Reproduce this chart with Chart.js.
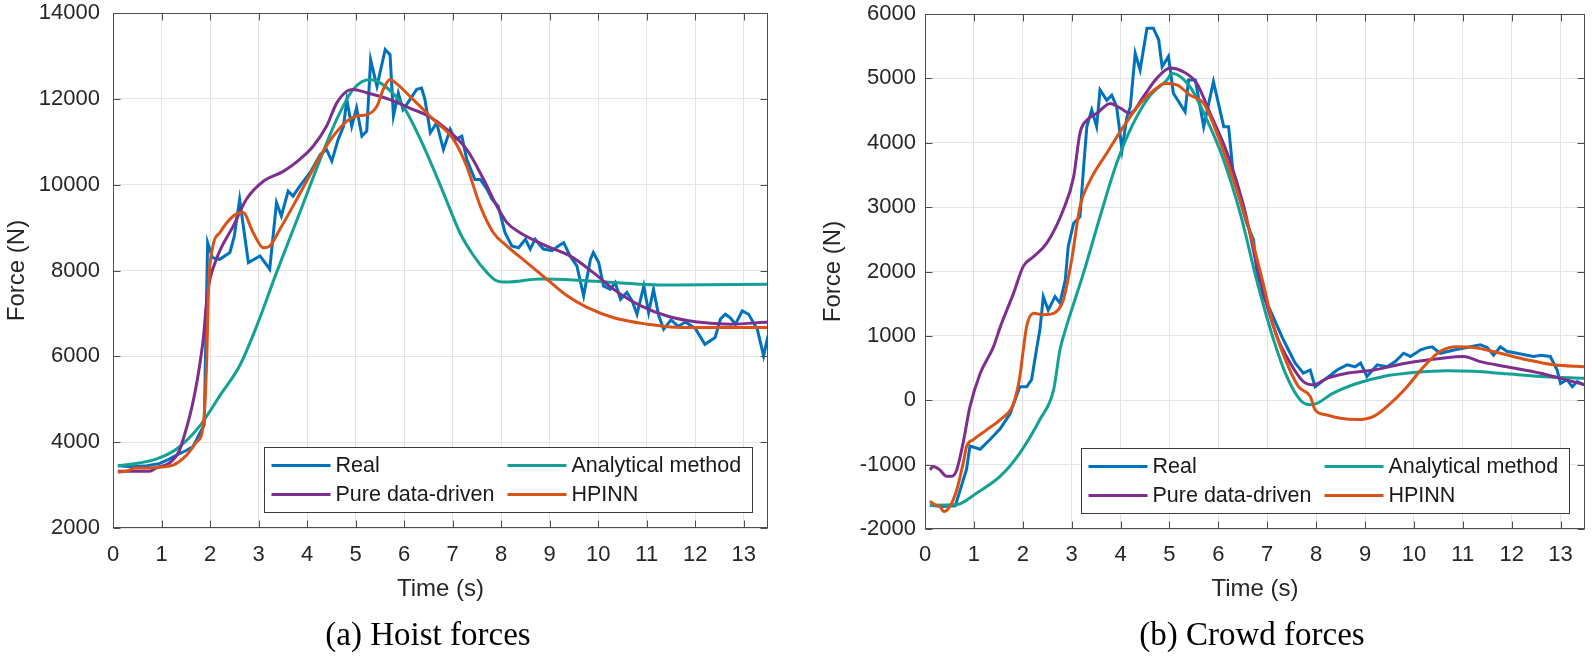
<!DOCTYPE html>
<html>
<head>
<meta charset="utf-8">
<title>Hoist and crowd forces</title>
<script src="https://cdn.jsdelivr.net/npm/chart.js@4.4.1/dist/chart.umd.min.js"></script>
<style>
  html, body { margin: 0; padding: 0; background: #fff; }
  .panel { position: absolute; top: 0; width: 796px; height: 660px; }
  #panelA { left: 0; }
  #panelB { left: 796px; }
</style>
</head>
<body>
<div class="panel" id="panelA"><canvas id="hoist" width="796" height="660"></canvas></div>
<div class="panel" id="panelB"><canvas id="crowd" width="796" height="660"></canvas></div>
<script>
// series names, legend reads row by row (2 columns)
const seriesNames = ['Real', 'Analytical method', 'Pure data-driven', 'HPINN'];
const seriesColors = ['#0072BD', '#14A095', '#7E2F8E', '#D95319'];

// tick labels
const timeTicks = [0, 1, 2, 3, 4, 5, 6, 7, 8, 9, 10, 11, 12, 13];
const hoistTicks = [2000, 4000, 6000, 8000, 10000, 12000, 14000];
const crowdTicks = [-2000, -1000, 0, 1000, 2000, 3000, 4000, 5000, 6000];

// (a) hoist forces - real measurement
const hoistRealT = [0.1, 0.4, 0.7, 0.95, 1.15, 1.35, 1.5, 1.65, 1.8, 1.88, 1.95, 2.05, 2.2, 2.41, 2.5, 2.61, 2.79, 3.03, 3.23, 3.37,
  3.47, 3.61, 3.71, 3.85, 4.06, 4.27, 4.4, 4.51, 4.64, 4.75, 4.82, 4.92, 5.02, 5.13, 5.23, 5.31, 5.44, 5.61, 5.71, 5.78,
  5.88, 5.98, 6.12, 6.26, 6.36, 6.43, 6.54, 6.67, 6.81, 6.95, 7.05, 7.19, 7.29, 7.46, 7.57, 7.71, 7.81, 7.94, 8.08, 8.22,
  8.36, 8.5, 8.6, 8.7, 8.87, 9.05, 9.18, 9.29, 9.42, 9.56, 9.7, 9.84, 9.9, 10.01, 10.11, 10.25, 10.35, 10.46, 10.59, 10.7,
  10.8, 10.94, 11.04, 11.14, 11.25, 11.35, 11.5, 11.65, 11.8, 12.0, 12.2, 12.41, 12.52, 12.62, 12.72, 12.83, 12.97, 13.1, 13.28, 13.41, 13.5];
const hoistRealF = [3450, 3430, 3450, 3500, 3600, 3720, 3800, 3900, 4230, 4400, 8650, 8300, 8260, 8420, 8800, 9660, 8185, 8340, 8030, 9580,
  9270, 9850, 9735, 9967, 10280, 10700, 10820, 10550, 11050, 11360, 11980, 11360, 11790, 11130, 11250, 12910, 12290, 13150, 13030, 11600,
  12140, 11750, 11980, 12220, 12250, 11980, 11210, 11440, 10820, 11290, 11050, 11130, 10590, 10120, 10120, 9890, 9660, 9500, 8880, 8570,
  8530, 8730, 8500, 8730, 8500, 8460, 8570, 8650, 8340, 8110, 7410, 8260, 8420, 8185, 7640, 7560, 7720, 7330, 7490, 7290,
  6980, 7640, 7020, 7560, 6940, 6630, 6850, 6700, 6800, 6650, 6280, 6440, 6870, 6980, 6900, 6750, 7060, 6980, 6630, 6010, 6480];

// (a) hoist forces - analytical method
const hoistAnaT = [0.1, 0.41, 0.9, 1.31, 1.79, 2.2, 2.61, 2.96, 3.37, 3.85, 4.27, 4.61, 4.95, 5.3, 5.6, 5.98, 6.4, 6.81, 7.15, 7.43,
  7.71, 7.91, 8.12, 8.81, 9.49, 10.18, 10.87, 11.56, 13.5];
const hoistAnaF = [3450, 3490, 3610, 3840, 4380, 5080, 5780, 6700, 7950, 9350, 10590, 11520, 12220, 12450, 12300, 11830, 10900, 9810, 8880, 8350,
  7950, 7760, 7730, 7800, 7780, 7730, 7680, 7660, 7680];

// (a) hoist forces - pure data-driven
const hoistPureT = [0.1, 0.75, 0.9, 1.2, 1.4, 1.85, 1.95, 2.13, 2.48, 2.75, 3.1, 3.51, 3.85, 4.13, 4.4, 4.61, 4.82, 4.95,
  5.23, 5.5, 5.71, 6.19, 6.5, 6.88, 7.29, 7.64, 7.91, 8.12, 8.39, 8.94, 9.42, 9.9, 10.32, 10.87, 11.42, 12.04, 12.73, 13.5];
const hoistPureF = [3320, 3320, 3400, 3550, 3900, 6300, 7500, 8260, 9040, 9660, 10080, 10310, 10590, 10900, 11360, 11900, 12180, 12220,
  12140, 12060, 11980, 11750, 11600, 11290, 10820, 10120, 9500, 9115, 8880, 8570, 8340, 7950, 7560, 7180, 6940, 6800, 6750, 6800];

// (a) hoist forces - HPINN
const hoistHpinnT = [0.1, 0.3, 0.45, 0.7, 1.0, 1.25, 1.51, 1.72, 1.86, 1.93, 1.97, 2.06, 2.2, 2.48, 2.68, 2.89, 3.1, 3.23, 3.44, 3.71,
  3.99, 4.27, 4.54, 4.82, 5.02, 5.23, 5.44, 5.57, 5.71, 5.85, 6.19, 6.6, 7.02, 7.29, 7.57, 7.84, 8.12, 8.53, 8.94, 9.36,
  9.77, 10.32, 11.01, 11.69, 13.5];
const hoistHpinnF = [3300, 3330, 3400, 3400, 3420, 3470, 3690, 4000, 4380, 5860, 7600, 8570, 8880, 9270, 9350, 8880, 8530, 8570, 8960, 9500,
  10080, 10660, 11130, 11480, 11600, 11630, 11830, 12220, 12450, 12350, 11980, 11520, 11050, 10430, 9500, 8880, 8570, 8185, 7800, 7410,
  7140, 6900, 6750, 6670, 6670];

// (b) crowd forces - real measurement
const crowdRealT = [0.1, 0.35, 0.62, 0.85, 0.92, 1.13, 1.33, 1.54, 1.74, 1.94, 2.08, 2.18, 2.29, 2.35, 2.42, 2.52, 2.66, 2.76, 2.87, 2.93,
  3.04, 3.17, 3.24, 3.31, 3.41, 3.51, 3.58, 3.72, 3.82, 3.92, 4.03, 4.13, 4.2, 4.3, 4.4, 4.54, 4.67, 4.78, 4.85, 4.98,
  5.08, 5.32, 5.39, 5.53, 5.7, 5.9, 6.11, 6.21, 6.31, 6.58, 6.72, 6.82, 7.06, 7.33, 7.57, 7.74, 7.88, 7.98, 8.12, 8.26,
  8.43, 8.63, 8.8, 8.91, 9.04, 9.25, 9.45, 9.62, 9.79, 9.93, 10.13, 10.24, 10.37, 10.54, 10.82, 11.16, 11.36, 11.5, 11.63, 11.77,
  11.9, 12.11, 12.31, 12.45, 12.59, 12.79, 12.93, 13.0, 13.13, 13.24, 13.34, 13.48];
const crowdRealF = [-1630, -1650, -1640, -1070, -710, -760, -610, -440, -210, 210, 210, 320, 830, 1090, 1610, 1400, 1610, 1510, 1870, 2390,
  2750, 2850, 3580, 4250, 4510, 4250, 4820, 4660, 4740, 4560, 3890, 4400, 4560, 5390, 5130, 5780, 5780, 5600, 5180, 5340,
  4770, 4480, 4975, 4975, 4250, 4950, 4250, 4250, 3470, 2750, 2490, 1770, 1400, 940, 580, 420, 470, 210, 290, 370,
  470, 550, 520, 580, 370, 550, 520, 600, 730, 680, 780, 810, 830, 730, 780, 830, 860, 820, 700, 830,
  760, 730, 700, 680, 700, 680, 470, 260, 320, 210, 290, 240];

// (b) crowd forces - analytical method
const crowdAnaT = [0.1, 0.65, 1.06, 1.54, 1.94, 2.35, 2.63, 2.76, 2.87, 3.24, 3.58, 3.92, 4.26, 4.61, 4.95, 5.05, 5.42, 5.77, 6.11, 6.45,
  6.79, 7.13, 7.4, 7.68, 7.88, 8.01, 8.35, 8.83, 9.38, 9.99, 10.68, 11.22, 11.9, 12.59, 13.5];
const crowdAnaF = [-1630, -1620, -1440, -1180, -820, -300, 160, 780, 1090, 1970, 2850, 3680, 4300, 4740, 4975, 5080, 4870, 4350, 3730, 2900,
  1850, 940, 370, 0, -70, -50, 110, 260, 370, 430, 460, 450, 410, 370, 340];

// (b) crowd forces - pure data-driven
const crowdPureT = [0.1, 0.17, 0.3, 0.44, 0.55, 0.65, 0.78, 0.92, 1.13, 1.4, 1.54, 1.81, 2.01, 2.22, 2.49, 2.83, 3.04, 3.17, 3.31, 3.52,
  3.79, 3.99, 4.2, 4.47, 4.74, 5.02, 5.29, 5.56, 5.83, 6.18, 6.52, 6.86, 7.2, 7.47, 7.74, 7.95, 8.22, 8.63, 9.18, 9.86,
  10.54, 11.02, 11.36, 11.9, 12.59, 13.0, 13.5];
const crowdPureF = [-1080, -1030, -1080, -1180, -1180, -1080, -660, -100, 420, 830, 1140, 1660, 2080, 2230, 2440, 2960, 3470, 4150, 4350, 4460,
  4610, 4540, 4460, 4720, 5000, 5160, 5100, 4920, 4460, 3840, 3010, 1850, 990, 580, 290, 240, 340, 420, 470, 580,
  650, 680, 600, 520, 420, 340, 240];

// (b) crowd forces - HPINN
const crowdHpinnT = [0.1, 0.2, 0.31, 0.38, 0.51, 0.65, 0.78, 0.85, 0.99, 1.26, 1.54, 1.81, 1.94, 2.01, 2.08, 2.22, 2.42, 2.63, 2.83, 3.0,
  3.17, 3.38, 3.72, 4.06, 4.4, 4.74, 4.9, 5.15, 5.42, 5.7, 5.97, 6.31, 6.65, 6.9, 7.13, 7.4, 7.64, 7.88, 7.98, 8.22,
  8.5, 8.84, 9.18, 9.52, 9.86, 10.2, 10.54, 10.88, 11.22, 11.77, 12.31, 12.86, 13.48];
const crowdHpinnF = [-1570, -1620, -1650, -1730, -1650, -1390, -980, -720, -610, -460, -300, -50, 370, 780, 1150, 1350, 1330, 1350, 1560, 2180,
  3010, 3420, 3840, 4250, 4610, 4850, 4920, 4900, 4740, 4610, 4150, 3420, 2600, 1870, 1150, 580, 210, 60, -150, -230,
  -280, -300, -250, -50, 210, 520, 760, 830, 820, 730, 630, 550, 520];

const sansFont = '"Liberation Sans", Arial, Helvetica, sans-serif';
const serifFont = '"Liberation Serif", "Times New Roman", serif';
const textColor = '#262626';
const frameColor = '#4d4d4d';
const gridColor = '#e4e4e4';

function toPoints(ts, fs) {
  return ts.map((t, i) => ({x: t, y: fs[i]}));
}

// MATLAB-style box, inward ticks, legend and caption
const decor = {
  id: 'decor',
  afterDatasetsDraw(chart, args, opts) {
    const ctx = chart.ctx;
    const a = chart.chartArea;
    const xs = chart.scales.x;
    const ys = chart.scales.y;
    const L = Math.round(a.left) + 0.5, R = Math.round(a.right) - 0.5;
    const T = Math.round(a.top) + 0.5, B = Math.round(a.bottom) - 0.5;
    ctx.save();
    ctx.strokeStyle = frameColor;
    ctx.lineWidth = 1;
    ctx.beginPath();
    xs.ticks.forEach(t => {
      const px = Math.round(xs.getPixelForValue(t.value)) + 0.5;
      ctx.moveTo(px, B); ctx.lineTo(px, B - 7);
      ctx.moveTo(px, T); ctx.lineTo(px, T + 7);
    });
    ys.ticks.forEach(t => {
      const py = Math.round(ys.getPixelForValue(t.value)) + 0.5;
      ctx.moveTo(L, py); ctx.lineTo(L + 7, py);
      ctx.moveTo(R, py); ctx.lineTo(R - 7, py);
    });
    ctx.stroke();
    ctx.strokeRect(L, T, R - L, B - T);

    // legend box, 2 columns
    const lw = 488, lh = 65;
    const bx = Math.round(a.right - 16 - lw) + 0.5;
    const by = Math.round(a.bottom - 16 - lh) + 0.5;
    ctx.fillStyle = '#fff';
    ctx.fillRect(bx, by, lw, lh);
    ctx.strokeStyle = '#3a3a3a';
    ctx.strokeRect(bx, by, lw, lh);
    ctx.font = '21.5px ' + sansFont;
    ctx.textBaseline = 'middle';
    ctx.textAlign = 'left';
    chart.data.datasets.forEach((ds, i) => {
      const col = i % 2, row = Math.floor(i / 2);
      const x0 = bx + (col ? 243 : 7);
      const yy = by + (row ? 47 : 18);
      ctx.strokeStyle = ds.borderColor;
      ctx.lineWidth = 3;
      ctx.beginPath();
      ctx.moveTo(x0, yy); ctx.lineTo(x0 + 59, yy);
      ctx.stroke();
      ctx.fillStyle = '#1a1a1a';
      ctx.fillText(ds.label, x0 + 64, yy + 1);
    });

    // caption under the panel
    ctx.font = '33px ' + serifFont;
    ctx.fillStyle = '#000';
    ctx.textAlign = 'center';
    ctx.textBaseline = 'alphabetic';
    ctx.fillText(opts.caption, opts.captionX, 645);
    ctx.restore();
  }
};

function makeChart(id, setup) {
  const lists = setup.series;
  const datasets = lists.map((s, i) => ({
    label: seriesNames[i],
    data: toPoints(s[0], s[1]),
    borderColor: seriesColors[i],
    backgroundColor: seriesColors[i],
    borderWidth: 3,
    pointRadius: 0,
    fill: false,
    order: 4 - i,
    tension: 0,
    cubicInterpolationMode: i === 0 ? 'default' : 'monotone'
  }));

  return new Chart(document.getElementById(id), {
    type: 'line',
    data: {datasets: datasets},
    plugins: [decor],
    options: {
      responsive: false,
      animation: false,
      devicePixelRatio: 1,
      events: [],
      layout: {padding: {left: 0, right: setup.padRight, top: setup.padTop, bottom: 56}},
      plugins: {
        legend: {display: false},
        tooltip: {enabled: false},
        decor: {caption: setup.caption, captionX: setup.captionX}
      },
      scales: {
        x: {
          type: 'linear',
          min: 0,
          max: 13.5,
          afterBuildTicks: s => { s.ticks = timeTicks.map(v => ({value: v})); },
          afterFit: s => { s.height = setup.xAxisH; s.paddingLeft = 0; s.paddingRight = 0; },
          grid: {color: gridColor, lineWidth: 1, drawTicks: false},
          border: {display: false},
          ticks: {
            autoSkip: false, maxRotation: 0, padding: setup.xPad, color: textColor,
            font: {family: sansFont, size: 22},
            callback: v => String(v)
          },
          title: {display: true, text: 'Time (s)', color: textColor,
            font: {family: sansFont, size: 24}, padding: {top: 0, bottom: 0}}
        },
        y: {
          type: 'linear',
          min: setup.yTicks[0],
          max: setup.yTicks[setup.yTicks.length - 1],
          afterBuildTicks: s => { s.ticks = setup.yTicks.map(v => ({value: v})); },
          afterFit: s => { s.width = setup.yAxisW; s.paddingTop = 0; s.paddingBottom = 0; },
          grid: {color: gridColor, lineWidth: 1, drawTicks: false},
          border: {display: false},
          ticks: {
            autoSkip: false, padding: setup.yPad, color: textColor,
            font: {family: sansFont, size: 22},
            callback: v => String(v)
          },
          title: {display: true, text: 'Force (N)', color: textColor,
            font: {family: sansFont, size: 24}, padding: {top: setup.yTitlePad, bottom: 0}}
        }
      }
    }
  });
}

makeChart('hoist', {
  series: [[hoistRealT, hoistRealF], [hoistAnaT, hoistAnaF], [hoistPureT, hoistPureF], [hoistHpinnT, hoistHpinnF]],
  yTicks: hoistTicks,
  padRight: 28, padTop: 13, xAxisH: 76, yAxisW: 113,
  xPad: 14, yPad: 13, yTitlePad: 3,
  caption: '(a) Hoist forces', captionX: 428
});

makeChart('crowd', {
  series: [[crowdRealT, crowdRealF], [crowdAnaT, crowdAnaF], [crowdPureT, crowdPureF], [crowdHpinnT, crowdHpinnF]],
  yTicks: crowdTicks,
  padRight: 7, padTop: 14, xAxisH: 75, yAxisW: 129,
  xPad: 13, yPad: 9, yTitlePad: 23,
  caption: '(b) Crowd forces', captionX: 456
});
</script>
</body>
</html>
